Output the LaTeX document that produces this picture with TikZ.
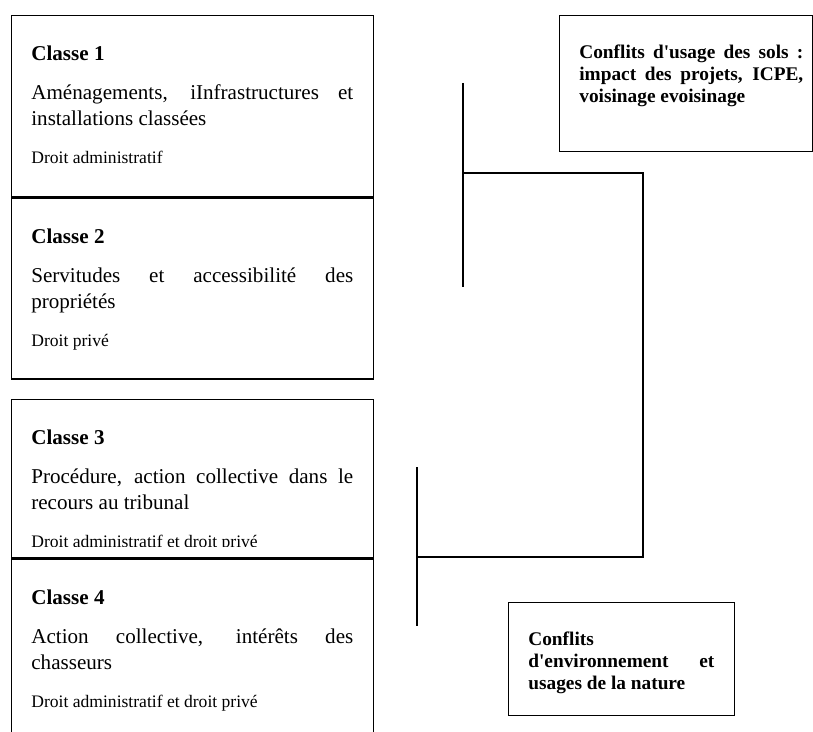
\documentclass[tikz,border=0pt]{standalone}
\usepackage{fontspec}
\setmainfont{Liberation Serif}
\usetikzlibrary{positioning}
\hyphenpenalty=10000

\begin{document}
\begin{tikzpicture}[x=0.02cm,y=-0.02cm,
        box/.style={draw, line width=0.8pt, anchor=north west, inner sep=0pt},
        classtext/.style={inner sep=0pt, text width=6.44cm, align=justify,
            font=\fontsize{12}{14.8}\selectfont},
        conftext/.style={inner sep=0pt, align=justify,
            font=\fontsize{11}{12.5}\selectfont\bfseries},
        link/.style={line width=0.8pt}]
        \clip (0,0) rectangle (813,732);
        \fill [white] (0,0) rectangle (813,732);

        % the four classes
        \node [box, minimum width=7.24cm, minimum height=3.62cm] (c1) at (11,15) {};
        \node [box, minimum width=7.24cm, minimum height=3.62cm] (c2) at (c1.south west) {};
        \node [box, minimum width=7.24cm, minimum height=3.16cm] (c3) at (11,399) {};
        \node [box, minimum width=7.24cm, minimum height=4cm] (c4) at (c3.south west) {};

        \node [classtext, below right=0.62cm and 0.4cm of c1.north west] (t1) {%
            \textbf{Classe 1}\par\vspace{7.4pt}
            Aménagements, iInfrastructures et installations classées\par\vspace{7.4pt}
            {\fontsize{10}{14.2}\selectfont Droit administratif\par}};
        \node [classtext, below right=0.62cm and 0.4cm of c2.north west] (t2) {%
            \textbf{Classe 2}\par\vspace{7.4pt}
            Servitudes et accessibilité des propriétés\par\vspace{7.4pt}
            {\fontsize{10}{14.2}\selectfont Droit privé\par}};
        \begin{scope}
            \clip (11,399) rectangle (373,546);
            \node [classtext, below right=0.62cm and 0.4cm of c3.north west] (t3) {%
                \textbf{Classe 3}\par\vspace{7.4pt}
                Procédure, action collective dans le recours au tribunal\par\vspace{7.4pt}
                {\fontsize{10}{14.2}\selectfont Droit administratif et droit privé\par}};
        \end{scope}
        \node [classtext, below right=0.62cm and 0.4cm of c4.north west] (t4) {%
            \textbf{Classe 4}\par\vspace{7.4pt}
            Action collective, intérêts des chasseurs\par\vspace{7.4pt}
            {\fontsize{10}{14.2}\selectfont Droit administratif et droit privé\par}};

        % the two kinds of conflicts
        \node [box, minimum width=5.06cm, minimum height=2.72cm] (sols) at (559,15) {};
        \node [conftext, text width=4.48cm, below right=0.6cm and 0.4cm of sols.north west] (solstext)
            {Conflits d\textquotesingle usage des sols~: impact des projets, ICPE, voisinage evoisinage};
        \node [box, minimum width=4.52cm, minimum height=2.26cm] (nature) at (508,602) {};
        \node [conftext, text width=3.72cm, below right=0.6cm and 0.4cm of nature.north west] (naturetext)
            {Conflits\\ d\textquotesingle environnement et usages de la nature};

        % bracket
        \coordinate (upTop) at (463,83);
        \coordinate (upBot) at (463,287);
        \coordinate (upMid) at (463,173);
        \coordinate (turnUp) at (643,173);
        \coordinate (turnLow) at (643,557);
        \coordinate (lowMid) at (417,557);
        \coordinate (lowTop) at (417,467);
        \coordinate (lowBot) at (417,626);
        \draw [link] (upTop) -- (upBot);
        \draw [link] (upMid) -- (turnUp) -- (turnLow) -- (lowMid);
        \draw [link] (lowTop) -- (lowBot);
    \end{tikzpicture}
\end{document}
